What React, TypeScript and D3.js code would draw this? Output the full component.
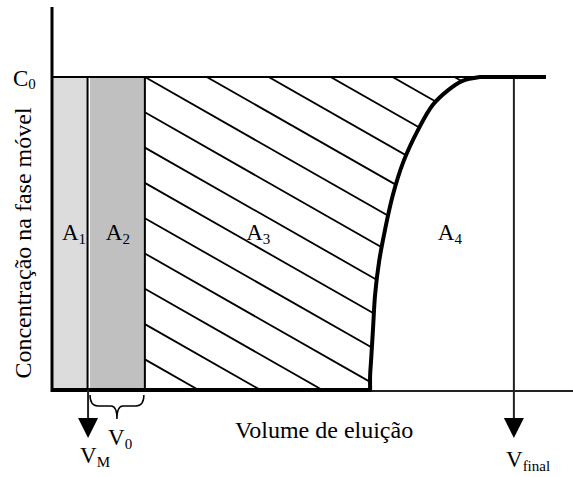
import React from "react";
import * as d3 from "d3";

// eluted volume (arbitrary units) and relative concentration
const vM = 7.3;
const a2Start = 7.7;
const v0End = 18.8;
const vFinal = 93.5;
const vEnd = 100;
const vAxisEnd = 105.5;

// breakthrough front: volume, concentration
const frontV = [64.4, 64.4, 64.6, 65.0, 65.4, 66.2, 67.4, 69.0, 71.1, 74.1, 77.1, 80.2, 83.0, 86.6];
const frontC = [0, 0.048, 0.096, 0.201, 0.304, 0.409, 0.511, 0.623, 0.728, 0.831, 0.911, 0.958, 0.987, 1];

const areaLabels = [
  { name: "A", sub: "1", v: 2.0 },
  { name: "A", sub: "2", v: 10.9 },
  { name: "A", sub: "3", v: 39.3 },
  { name: "A", sub: "4", v: 78.1 },
];

const font = "'Liberation Serif', 'Times New Roman', serif";

export default function App() {
  const width = 573;
  const height = 477;

  const x = d3.scaleLinear().domain([0, 100]).range([52, 546]);
  const y = d3.scaleLinear().domain([0, 1]).range([390, 77]);

  const front = frontV.map((v, i) => ({ v, c: frontC[i] }));

  const frontLine = d3
    .line<{ v: number; c: number }>()
    .x((d) => x(d.v))
    .y((d) => y(d.c))
    .curve(d3.curveCatmullRom.alpha(0.5));

  const profilePath =
    `M${x(0)},${y(0)}L` +
    (frontLine(front) || "").slice(1) +
    `L${x(vEnd)},${y(1)}`;

  const hatchArea = d3
    .area<{ v: number; c: number }>()
    .y((d) => y(d.c))
    .x0(() => x(v0End))
    .x1((d) => x(d.v))
    .curve(d3.curveCatmullRom.alpha(0.5));

  // hatch lines, about 30 degrees down to the right
  const slope = 0.57;
  const step = 35.3;
  const hx0 = x(v0End);
  const hx1 = x(vEnd);
  const hatch = d3.range(-12, 10).map((k) => {
    const y0 = y(1) + k * step;
    return { x1: hx0, y1: y0, x2: hx1, y2: y0 + slope * (hx1 - hx0) };
  });

  const arrow = (v: number, yTop: number) => {
    const cx = x(v);
    return (
      <g>
        <line x1={cx} x2={cx} y1={yTop} y2={420} stroke="#222" strokeWidth={2} />
        <path d={`M${cx - 10},418L${cx + 10},418L${cx},438Z`} fill="#000" />
      </g>
    );
  };

  const bx0 = x(a2Start);
  const bx1 = x(v0End) - 1;
  const bm = (bx0 + bx1) / 2;
  const brace = `M${bx0},395 Q${bx0},406 ${bx0 + 8},406 L${bm - 6},406 Q${bm},406 ${bm},419 Q${bm},406 ${bm + 6},406 L${bx1 - 8},406 Q${bx1},406 ${bx1},395`;

  return (
    <svg
      width={width}
      height={height}
      style={{ position: "absolute", left: 0, top: 0, background: "#fff" }}
      fontFamily={font}
    >
      <defs>
        <clipPath id="hatchClip">
          <path d={hatchArea(front) || ""} />
        </clipPath>
      </defs>

      {/* filled areas */}
      <rect x={x(0)} y={y(1)} width={x(vM) - x(0)} height={y(0) - y(1)} fill="#dcdcdc" />
      <rect x={x(a2Start)} y={y(1)} width={x(v0End) - x(a2Start)} height={y(0) - y(1)} fill="#c0c0c0" />

      <g clipPath="url(#hatchClip)">
        {hatch.map((h, i) => (
          <line key={i} {...h} stroke="#000" strokeWidth={1.8} />
        ))}
      </g>

      <line x1={x(vM) - 0.5} x2={x(vM) - 0.5} y1={y(1)} y2={y(0)} stroke="#000" strokeWidth={2} />
      <line x1={x(v0End)} x2={x(v0End)} y1={y(1)} y2={y(0)} stroke="#000" strokeWidth={2} />

      {/* frame */}
      <line x1={x(0)} x2={x(vEnd)} y1={y(1)} y2={y(1)} stroke="#000" strokeWidth={2} />
      <line x1={x(0)} x2={x(vAxisEnd)} y1={y(0) + 1} y2={y(0) + 1} stroke="#222" strokeWidth={2} />
      <line x1={x(0)} x2={x(0)} y1={7} y2={y(0) + 2} stroke="#000" strokeWidth={3} />

      {/* concentration profile */}
      <path d={profilePath} fill="none" stroke="#000" strokeWidth={4} strokeLinejoin="round" />

      {arrow(vFinal, y(1) + 2)}
      {arrow(vM, y(0))}
      <path d={brace} fill="none" stroke="#000" strokeWidth={1.5} />

      {/* labels */}
      {areaLabels.map((a) => (
        <text key={a.sub} x={x(a.v)} y={240} fontSize={23}>
          {a.name}
          <tspan fontSize={15} dy={4}>{a.sub}</tspan>
        </text>
      ))}

      <text x={13} y={86} fontSize={23}>
        C<tspan fontSize={15} dy={3}>0</tspan>
      </text>
      <text
        transform="translate(31,243) rotate(-90)"
        textAnchor="middle"
        fontSize={24}
      >
        Concentração na fase móvel
      </text>
      <text x={235} y={438} fontSize={24}>
        Volume de eluição
      </text>
      <text x={108} y={445} fontSize={23}>
        V<tspan fontSize={15} dy={4}>0</tspan>
      </text>
      <text x={80} y={463} fontSize={23}>
        V<tspan fontSize={15} dy={4}>M</tspan>
      </text>
      <text x={506} y={467} fontSize={23}>
        V<tspan fontSize={15} dy={4}>final</tspan>
      </text>
    </svg>
  );
}
